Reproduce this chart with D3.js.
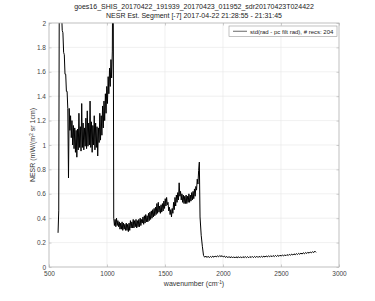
<!DOCTYPE html>
<html>
<head>
<meta charset="utf-8">
<script src="https://cdn.jsdelivr.net/npm/d3@7"></script>
<style>
    body { margin: 0; background: #fff; }
    #chart-area { width: 375px; height: 301px; }
    text { font-family: "Liberation Sans", Arial, sans-serif; }
</style>
</head>
<body>
<div id="chart-area"></div>
<script>
// titles / labels
const titleLines = [
    "goes16_SHIS_20170422_191939_20170423_011952_sdr20170423T024422",
    "NESR Est. Segment [-7] 2017-04-22 21:28:55 - 21:31:45"
];
const legendLabel = "std(rad - pc filt rad), # recs:  204";

const xTicks = [500, 1000, 1500, 2000, 2500, 3000];
const yTicks = [0, 0.2, 0.4, 0.6, 0.8, 1, 1.2, 1.4, 1.6, 1.8, 2];

// longwave band, wavenumber grid start + spacing (cm-1)
const lwStart = 578, lwStep = 6;
const lwNesr = [
    0.28, 0.46, 2.80, 2.45, 2.30, 2.10, 1.94, 1.92, 1.76, 1.74, 1.58, 1.58, 1.44, 1.44, 1.30, 0.73,
    1.30, 1.12, 1.24, 1.06, 1.20, 1.00, 1.16, 0.97, 1.14, 0.94, 1.12, 0.90, 1.13, 0.96, 1.26, 0.98,
    1.15, 0.95, 1.34, 0.98, 1.18, 0.96, 1.14, 0.99, 1.22, 0.97, 1.28, 0.99, 1.18, 1.00, 1.36, 0.98,
    1.19, 0.94, 1.16, 1.00, 1.24, 0.96, 1.18, 0.98, 1.15, 0.91, 1.14, 1.02, 1.26, 1.04, 1.24, 1.08,
    1.32, 1.14, 1.36, 1.20, 1.42, 1.26, 1.48, 1.34, 1.56, 1.42, 1.63, 1.48, 1.70, 1.55, 1.77, 3.00
];

// midwave band
const mwStart = 1058, mwStep = 6;
const mwNesr = [
    0.40, 0.34, 0.39, 0.33, 0.40, 0.34, 0.38, 0.33,
    0.37, 0.31, 0.36, 0.31, 0.37, 0.30, 0.36, 0.31, 0.35, 0.30, 0.36, 0.30, 0.35, 0.29, 0.36, 0.30,
    0.38, 0.32, 0.37, 0.32, 0.39, 0.32, 0.38, 0.33, 0.39, 0.32, 0.38, 0.33, 0.39, 0.33, 0.40, 0.34, 0.39,
    0.36, 0.41, 0.35, 0.42, 0.36, 0.43, 0.37, 0.42, 0.37, 0.44, 0.38, 0.45, 0.39, 0.46, 0.40, 0.47, 0.41,
    0.48, 0.42, 0.49, 0.43, 0.52, 0.44, 0.53, 0.45, 0.50, 0.44, 0.51, 0.45, 0.52, 0.46, 0.54, 0.48, 0.56, 0.50, 0.57, 0.51,
    0.53, 0.46, 0.49, 0.43, 0.47, 0.41,
    0.48, 0.44, 0.53, 0.47, 0.57, 0.50, 0.59, 0.53, 0.61, 0.55,
    0.69, 0.58, 0.62, 0.55,
    0.60, 0.53, 0.59, 0.52, 0.58, 0.52, 0.59, 0.52, 0.58, 0.53, 0.60, 0.53, 0.59, 0.54, 0.61, 0.55, 0.62, 0.56, 0.64, 0.58, 0.66,
    0.63, 0.72, 0.68, 0.79, 0.86
];

// shortwave band
const swStart = 1802, swStep = 10;
const swNesr = [
    0.41, 0.26, 0.17, 0.095, 0.080, 0.090, 0.078, 0.088, 0.077, 0.087, 0.079, 0.089, 0.080, 0.090, 0.082, 0.092,
    0.083, 0.094, 0.085, 0.093, 0.082, 0.090, 0.078, 0.087, 0.076, 0.086, 0.075, 0.085, 0.074, 0.084, 0.074, 0.084,
    0.075, 0.085, 0.074, 0.084, 0.075, 0.085, 0.076, 0.086, 0.076, 0.085, 0.076, 0.086, 0.077, 0.087, 0.077, 0.087,
    0.078, 0.088, 0.078, 0.088, 0.079, 0.089, 0.080, 0.090, 0.081, 0.091, 0.082, 0.092, 0.083, 0.093, 0.084, 0.094,
    0.085, 0.095, 0.086, 0.096, 0.087, 0.097, 0.089, 0.099, 0.090, 0.100, 0.092, 0.102, 0.094, 0.104, 0.096, 0.106,
    0.098, 0.108, 0.100, 0.110, 0.102, 0.112, 0.104, 0.114, 0.106, 0.117, 0.108, 0.119, 0.111, 0.121, 0.113, 0.123,
    0.116, 0.126, 0.118, 0.130, 0.120
];

class nesrPlot {
    constructor(parentContainer) {
        this.parentContainer = parentContainer;
        this.initVis();
    }

    initVis() {
        let vis = this;

        vis.margin = {top: 23, right: 36, bottom: 34, left: 49};
        vis.width = 375 - vis.margin.left - vis.margin.right;
        vis.height = 301 - vis.margin.top - vis.margin.bottom;

        vis.svg = d3.select("#" + vis.parentContainer)
            .append("svg")
            .attr("width", 375)
            .attr("height", 301);

        vis.g = vis.svg.append("g")
            .attr("transform", `translate(${vis.margin.left},${vis.margin.top})`);

        vis.xScale = d3.scaleLinear().domain([500, 3000]).range([0, vis.width]);
        vis.yScale = d3.scaleLinear().domain([0, 2]).range([vis.height, 0]);

        vis.svg.append("defs").append("clipPath")
            .attr("id", "plot-clip")
            .append("rect")
            .attr("width", vis.width)
            .attr("height", vis.height);

        vis.wrangleData();
    }

    wrangleData() {
        let vis = this;
        vis.points = [];
        const addBand = (start, step, vals) => {
            vals.forEach((v, i) => vis.points.push({wn: start + i * step, nesr: v}));
        };
        addBand(lwStart, lwStep, lwNesr);
        addBand(mwStart, mwStep, mwNesr);
        addBand(swStart, swStep, swNesr);
        vis.updateVis();
    }

    updateVis() {
        let vis = this;

        // grid
        vis.g.append("g").selectAll("line")
            .data(xTicks.slice(1, -1))
            .enter().append("line")
            .attr("x1", d => vis.xScale(d)).attr("x2", d => vis.xScale(d))
            .attr("y1", 0).attr("y2", vis.height)
            .attr("stroke", "#e6e6e6").attr("stroke-width", 0.6);

        vis.g.append("g").selectAll("line")
            .data(yTicks.slice(1, -1))
            .enter().append("line")
            .attr("x1", 0).attr("x2", vis.width)
            .attr("y1", d => vis.yScale(d)).attr("y2", d => vis.yScale(d))
            .attr("stroke", "#e6e6e6").attr("stroke-width", 0.6);

        // axes
        const xAxis = vis.g.append("g")
            .attr("transform", `translate(0,${vis.height})`)
            .call(d3.axisBottom(vis.xScale).tickValues(xTicks).tickFormat(d3.format("d"))
                .tickSizeInner(-2.5).tickSizeOuter(0).tickPadding(4));
        const yAxis = vis.g.append("g")
            .call(d3.axisLeft(vis.yScale).tickValues(yTicks).tickFormat(d3.format("~g"))
                .tickSizeInner(-2.5).tickSizeOuter(0).tickPadding(3));
        const xTop = vis.g.append("g")
            .call(d3.axisTop(vis.xScale).tickValues(xTicks).tickSizeInner(-2.5).tickSizeOuter(0).tickFormat(""));
        const yRight = vis.g.append("g")
            .attr("transform", `translate(${vis.width},0)`)
            .call(d3.axisRight(vis.yScale).tickValues(yTicks).tickSizeInner(-2.5).tickSizeOuter(0).tickFormat(""));

        [xAxis, yAxis, xTop, yRight].forEach(a => {
            a.select(".domain").remove();
            a.selectAll(".tick line").attr("stroke", "#b0b0b0").attr("stroke-width", 0.6);
            a.selectAll(".tick text")
                .attr("fill", "#444")
                .style("font-size", "6.5px");
        });

        // data line
        const line = d3.line()
            .x(d => vis.xScale(d.wn))
            .y(d => vis.yScale(d.nesr));

        vis.g.append("path")
            .datum(vis.points)
            .attr("clip-path", "url(#plot-clip)")
            .attr("d", line)
            .attr("fill", "none")
            .attr("stroke", "#000")
            .attr("stroke-width", 1)
            .attr("stroke-linejoin", "bevel");

        // box
        vis.g.append("rect")
            .attr("width", vis.width)
            .attr("height", vis.height)
            .attr("fill", "none")
            .attr("stroke", "#b0b0b0")
            .attr("stroke-width", 0.8);

        // titles
        vis.svg.selectAll(".title")
            .data(titleLines)
            .enter().append("text")
            .attr("class", "title")
            .attr("x", vis.margin.left + vis.width / 2)
            .attr("y", (d, i) => 9 + i * 8.5)
            .attr("text-anchor", "middle")
            .attr("fill", "#222")
            .style("font-size", "7px")
            .text(d => d);

        // axis labels
        const xl = vis.svg.append("text")
            .attr("x", vis.margin.left + vis.width / 2)
            .attr("y", 286)
            .attr("text-anchor", "middle")
            .attr("fill", "#333")
            .style("font-size", "7px");
        xl.append("tspan").text("wavenumber (cm");
        xl.append("tspan").attr("dy", -2.5).style("font-size", "4.8px").text("-1");
        xl.append("tspan").attr("dy", 2.5).text(")");

        const yl = vis.svg.append("text")
            .attr("transform", `translate(35,${vis.margin.top + vis.height / 2}) rotate(-90)`)
            .attr("text-anchor", "middle")
            .attr("fill", "#333")
            .style("font-size", "7px");
        yl.append("tspan").text("NESR (mW/(m");
        yl.append("tspan").attr("dy", -2.5).style("font-size", "4.8px").text("2");
        yl.append("tspan").attr("dy", 2.5).text(" sr 1cm)");

        // legend
        const leg = vis.svg.append("g").attr("transform", "translate(229,26)");
        leg.append("rect")
            .attr("width", 108).attr("height", 10.5)
            .attr("fill", "#fff")
            .attr("stroke", "#999").attr("stroke-width", 0.6);
        leg.append("line")
            .attr("x1", 4).attr("x2", 18).attr("y1", 5.25).attr("y2", 5.25)
            .attr("stroke", "#000").attr("stroke-width", 0.6);
        leg.append("text")
            .attr("x", 21).attr("y", 7.5)
            .attr("fill", "#222")
            .style("font-size", "6px")
            .text(legendLabel);
    }
}

new nesrPlot("chart-area");
</script>
</body>
</html>
